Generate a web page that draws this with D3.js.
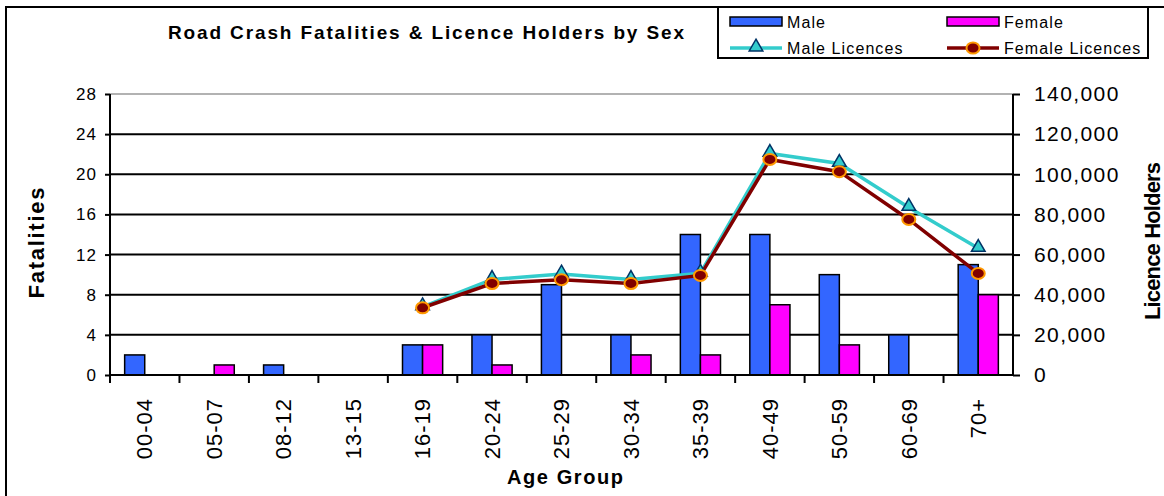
<!DOCTYPE html>
<html><head><meta charset="utf-8">
<script src="https://cdn.jsdelivr.net/npm/d3@7"></script>
<style>
html,body{margin:0;padding:0;background:#fff;}
svg{display:block;font-family:"Liberation Sans",Arial,sans-serif;}
</style></head>
<body><svg id="c" width="1164" height="496"></svg>
<script>
const categories = ["00-04","05-07","08-12","13-15","16-19","20-24","25-29","30-34","35-39","40-49","50-59","60-69","70+"];
const maleFatalities   = [2,0,1,0,3,4,9,4,14,14,10,4,11];
const femaleFatalities = [0,1,0,0,3,1,0,2,2,7,3,0,8];
const maleLicences   = [null,null,null,null,34000,47600,50300,47600,50700,110400,105400,83500,63100];
const femaleLicences = [null,null,null,null,33500,45600,47500,45600,49600,107400,101300,77500,50600];
const leftTicks  = [0,4,8,12,16,20,24,28];
const rightTicks = [0,20000,40000,60000,80000,100000,120000,140000];
const seriesNames = ["Male","Female","Male Licences","Female Licences"];

const svg = d3.select("#c");
const L = 110, R = 1013, T = 94, B = 375;

// outer frame (right and bottom edges fall outside the picture)
svg.append("rect").attr("x",6).attr("y",7).attr("width",1170).attr("height",500)
  .attr("fill","none").attr("stroke","#000").attr("stroke-width",2);

const x = d3.scaleBand().domain(categories).range([L,R]).padding(0);
const xs = d3.scaleBand().domain(["m","f"]).range([0,x.bandwidth()]).paddingInner(0).paddingOuter(0.73);
const yL = d3.scaleLinear().domain([0,28]).range([B,T]);
const yR = d3.scaleLinear().domain([0,140000]).range([B,T]);

// gridlines
svg.append("g").selectAll("line").data(leftTicks.slice(1)).join("line")
  .attr("x1",L).attr("x2",R).attr("y1",d=>yL(d)).attr("y2",d=>yL(d))
  .attr("stroke",d=>d===28?"#999":"#000").attr("stroke-width",d=>d===28?1.5:2);

// bars
const bars = svg.append("g");
categories.forEach((c,i)=>{
  [["m",maleFatalities[i],"#3366FF"],["f",femaleFatalities[i],"#FF00FF"]].forEach(([k,v,col])=>{
    if(v>0){
      bars.append("rect").attr("x",x(c)+xs(k)).attr("y",yL(v))
        .attr("width",xs.bandwidth()).attr("height",yL(0)-yL(v))
        .attr("fill",col).attr("stroke","#000").attr("stroke-width",1.5);
    }
  });
});

// axes
const axL = svg.append("g").attr("transform",`translate(${L},0)`)
  .call(d3.axisLeft(yL).tickValues(leftTicks).tickSize(5).tickPadding(8).tickFormat(d3.format("d")));
const axR = svg.append("g").attr("transform",`translate(${R},0)`)
  .call(d3.axisRight(yR).tickValues(rightTicks).tickSize(7).tickPadding(14).tickFormat(d3.format(",")));
const axB = svg.append("g").attr("transform",`translate(0,${B})`)
  .call(d3.axisBottom(x).tickSize(0).tickPadding(0));
[axL,axR,axB].forEach(a=>{a.selectAll(".domain").attr("stroke","#000").attr("stroke-width",2);
  a.selectAll(".tick line").attr("stroke","#000").attr("stroke-width",2);});
axL.select(".domain").attr("d",`M-0,${T}V${B}`);
axR.select(".domain").attr("d",`M0,${T}V${B}`);
axB.select(".domain").attr("d",`M${L},0H${R}`);
axL.selectAll("text").attr("font-size",17).attr("fill","#000").attr("letter-spacing",1);
axR.selectAll("text").attr("font-size",21).attr("fill","#000").attr("letter-spacing",1.4);
// category boundary ticks
svg.append("g").selectAll("line").data(categories).join("line")
  .attr("x1",d=>x(d)).attr("x2",d=>x(d)).attr("y1",B).attr("y2",B+8)
  .attr("stroke","#000").attr("stroke-width",2);
axB.selectAll(".tick text").attr("font-size",22).attr("fill","#000").attr("letter-spacing",1)
  .attr("text-anchor","end").attr("transform","translate(0,23) rotate(-90)")
  .attr("x",0).attr("y",0).attr("dy","0.35em");

// lines
const cx = c=>x(c)+x.bandwidth()/2;
const lineM = d3.line().defined(d=>d[1]!=null).x(d=>cx(d[0])).y(d=>yR(d[1]));
const mData = categories.map((c,i)=>[c,maleLicences[i]]);
const fData = categories.map((c,i)=>[c,femaleLicences[i]]);
svg.append("path").attr("d",lineM(mData)).attr("fill","none").attr("stroke","#33CCCC").attr("stroke-width",3.5);
svg.append("path").attr("d",lineM(fData)).attr("fill","none").attr("stroke","#800000").attr("stroke-width",3.5);
const tri = d3.symbol().type(d3.symbolTriangle).size(80);
svg.append("g").selectAll("path").data(mData.filter(d=>d[1]!=null)).join("path")
  .attr("d",tri).attr("transform",d=>`translate(${cx(d[0])},${yR(d[1])-1})`)
  .attr("fill","#33CCCC").attr("stroke","#003366").attr("stroke-width",1.5);
svg.append("g").selectAll("ellipse").data(fData.filter(d=>d[1]!=null)).join("ellipse")
  .attr("cx",d=>cx(d[0])).attr("cy",d=>yR(d[1])).attr("rx",6.5).attr("ry",5.5)
  .attr("fill","#800000").attr("stroke","#FF9900").attr("stroke-width",2);

// titles
svg.append("text").attr("x",426).attr("y",39).attr("text-anchor","middle")
  .attr("font-size",19).attr("font-weight","bold").attr("textLength",516).attr("lengthAdjust","spacing")
  .text("Road Crash Fatalities & Licence Holders by Sex");
svg.append("text").attr("x",565).attr("y",484).attr("text-anchor","middle")
  .attr("font-size",20).attr("font-weight","bold").attr("textLength",116).attr("lengthAdjust","spacing")
  .text("Age Group");
svg.append("text").attr("transform","translate(44,243) rotate(-90)").attr("text-anchor","middle")
  .attr("font-size",22).attr("font-weight","bold").attr("textLength",111).attr("lengthAdjust","spacing")
  .text("Fatalities");
svg.append("text").attr("transform","translate(1160,241) rotate(-90)").attr("text-anchor","middle")
  .attr("font-size",22).attr("font-weight","bold").attr("textLength",158).attr("lengthAdjust","spacing")
  .text("Licence Holders");

// legend
const lg = svg.append("g");
lg.append("rect").attr("x",718).attr("y",7).attr("width",430).attr("height",51)
  .attr("fill","#fff").attr("stroke","#000").attr("stroke-width",2);
const lx = [730,947], ly = [22,48];
const items = [
  {name:seriesNames[0],type:"bar",fill:"#3366FF",col:0,row:0},
  {name:seriesNames[1],type:"bar",fill:"#FF00FF",col:1,row:0},
  {name:seriesNames[2],type:"line",stroke:"#33CCCC",col:0,row:1},
  {name:seriesNames[3],type:"line",stroke:"#800000",col:1,row:1}
];
items.forEach(it=>{
  const x0 = lx[it.col], y0 = ly[it.row];
  if(it.type==="bar"){
    lg.append("rect").attr("x",x0).attr("y",y0-5).attr("width",52).attr("height",9)
      .attr("fill",it.fill).attr("stroke","#000").attr("stroke-width",1.5);
  } else {
    lg.append("line").attr("x1",x0).attr("x2",x0+52).attr("y1",y0).attr("y2",y0)
      .attr("stroke",it.stroke).attr("stroke-width",3.5);
    if(it.col===0){
      lg.append("path").attr("d",tri).attr("transform",`translate(${x0+26},${y0-1})`)
        .attr("fill","#33CCCC").attr("stroke","#003366").attr("stroke-width",1.5);
    } else {
      lg.append("ellipse").attr("cx",x0+26).attr("cy",y0).attr("rx",6.5).attr("ry",5.5)
        .attr("fill","#800000").attr("stroke","#FF9900").attr("stroke-width",2);
    }
  }
  lg.append("text").attr("x",x0+57).attr("y",y0+6).attr("font-size",16).attr("letter-spacing",1.1)
    .text(it.name);
});
</script></body></html>
